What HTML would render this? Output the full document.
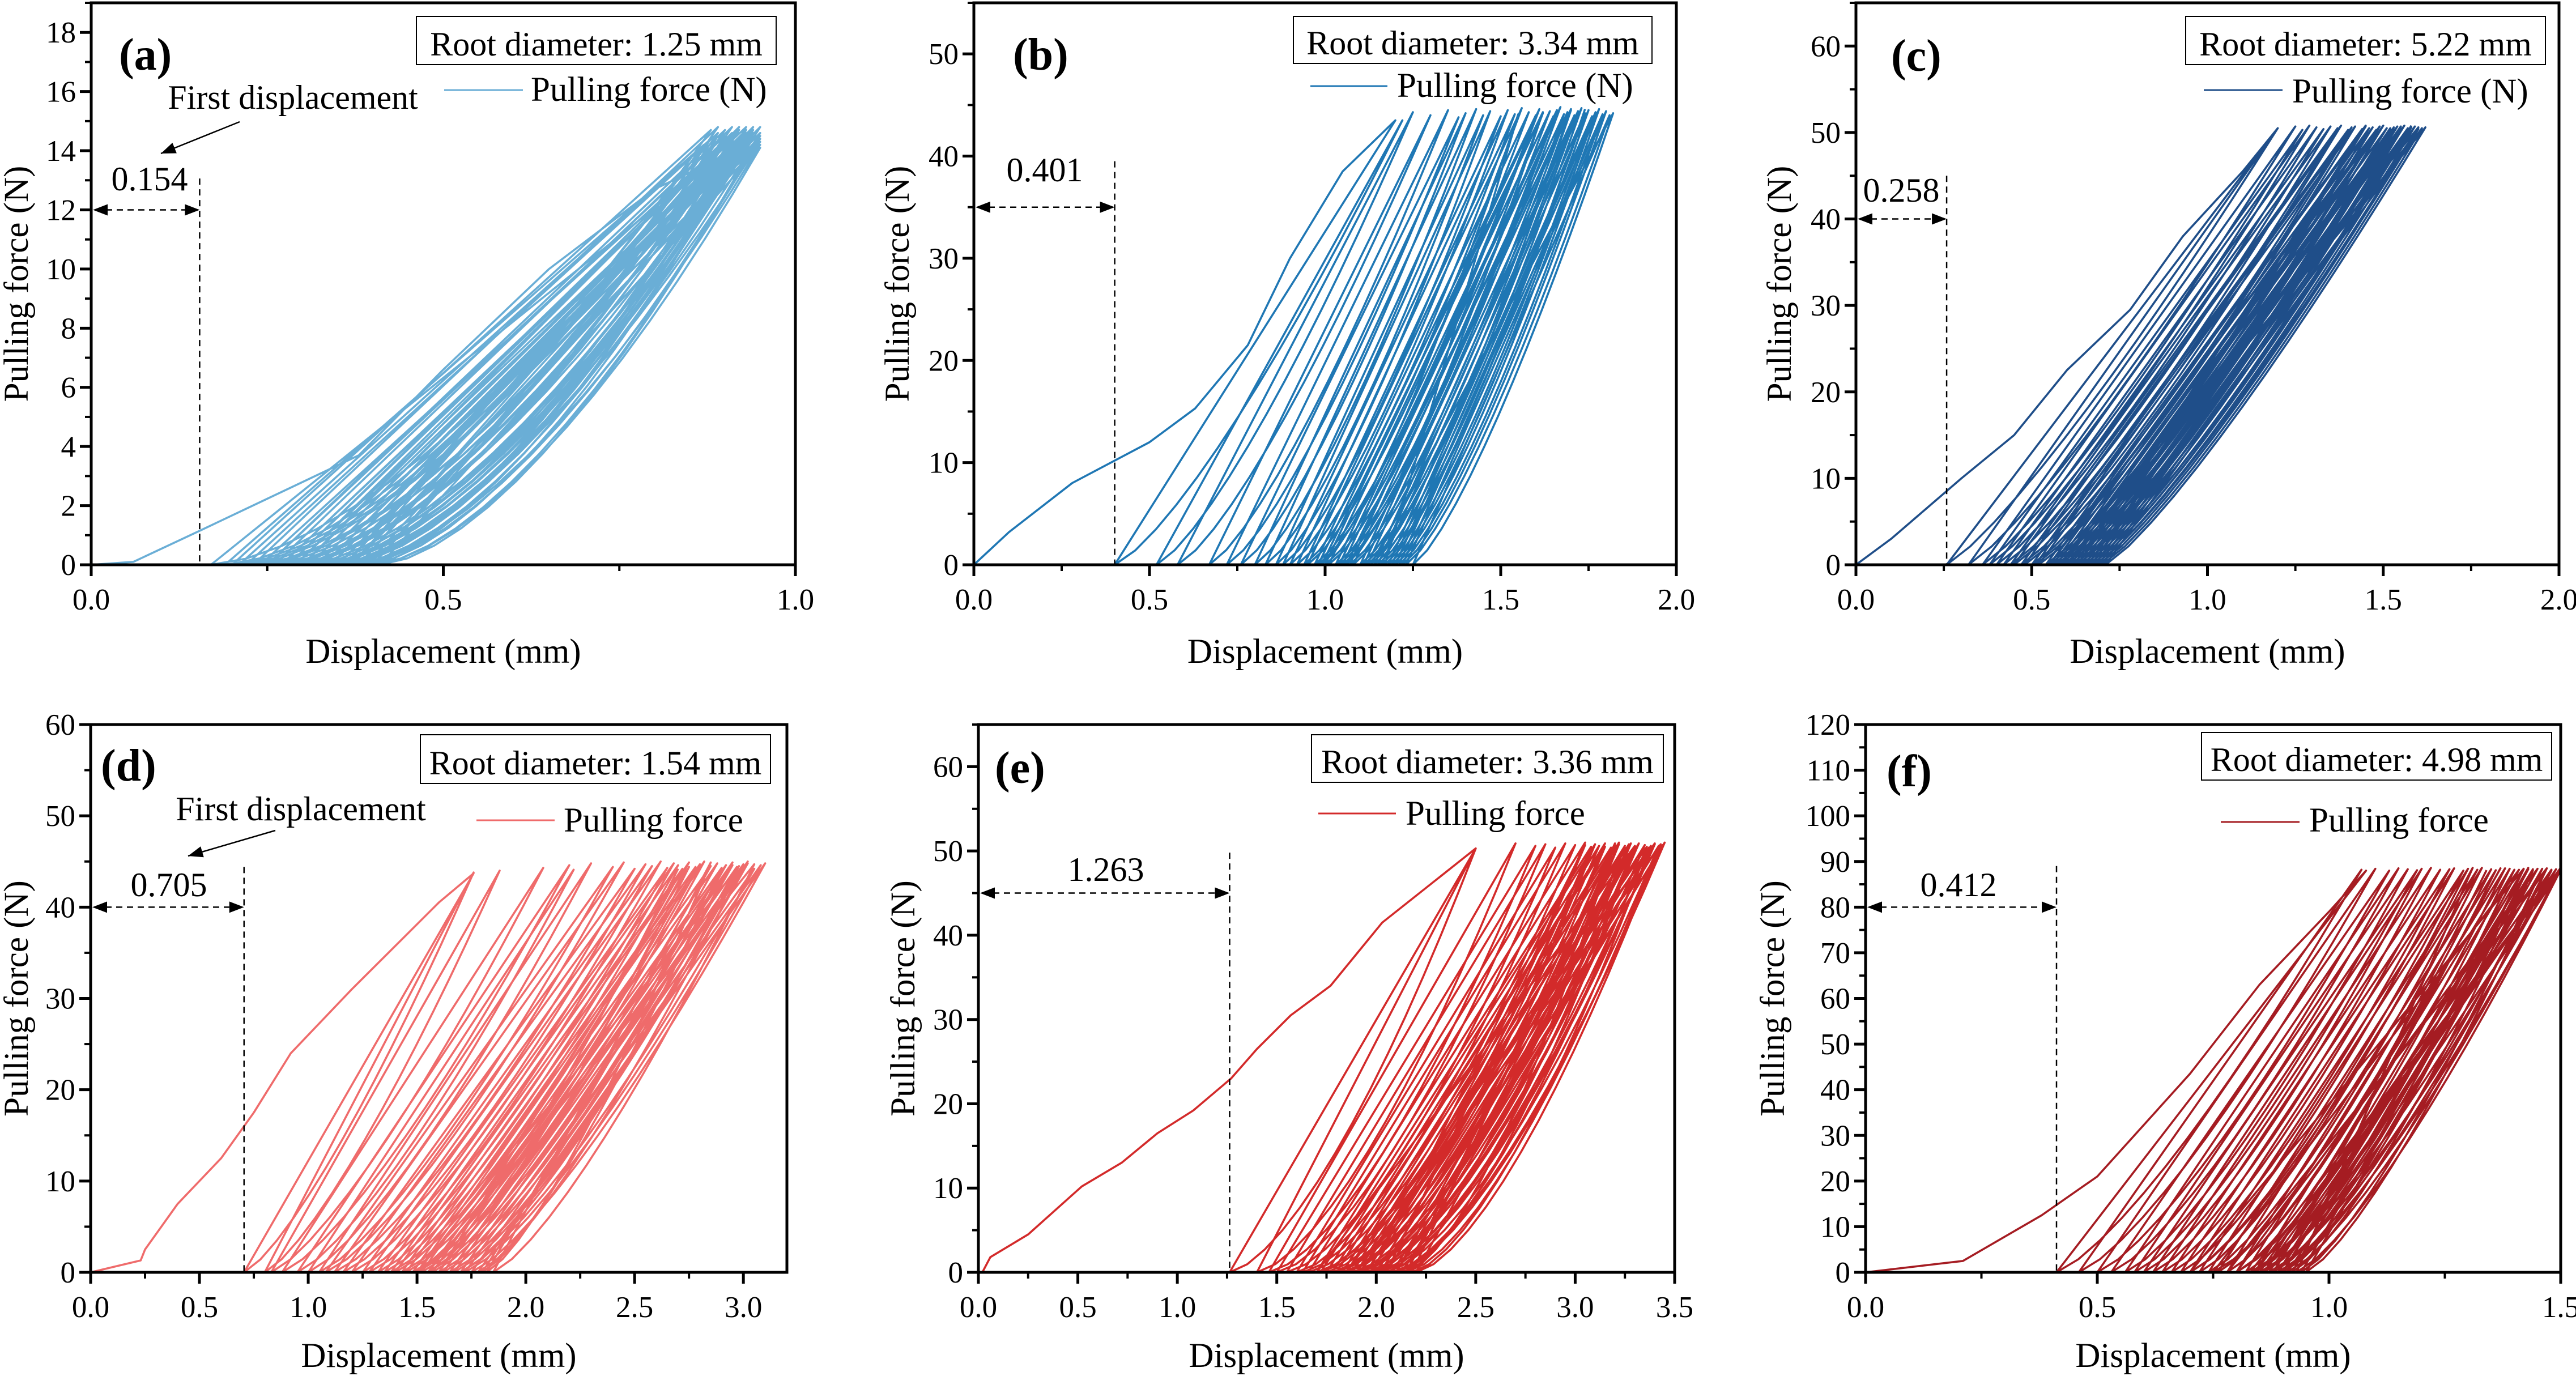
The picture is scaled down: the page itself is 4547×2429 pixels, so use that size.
<!DOCTYPE html>
<html><head><meta charset="utf-8">
<style>
html,body{margin:0;padding:0;background:#fff;}
svg{display:block;}
text{font-family:"Liberation Serif","Times New Roman",serif;}
</style></head>
<body>
<svg id="fig" width="4547" height="2429" viewBox="0 0 4547 2429" xmlns="http://www.w3.org/2000/svg">
</svg>
<script>
// ---- data ----
const aFirstX=[0,0.06,0.154,0.38,0.5,0.65,0.8,0.88];
const aFirstY=[0,0.1,1.15,3.7,6.6,10.0,12.7,13.6];
const aStarts=[0.17,0.19,0.2,0.21,0.22,0.23,0.24,0.25,0.25,0.26,0.27,0.28,0.28,0.29,0.3,0.3,0.31,0.31,0.32,0.32,0.33,0.33,0.34,0.34,0.35,0.35,0.36,0.36,0.37,0.37,0.38,0.38,0.39,0.4,0.4,0.41,0.33,0.29,0.36,0.27];
const aEnds=[0.87,0.88,0.88,0.89,0.89,0.9,0.9,0.9,0.91,0.91,0.91,0.92,0.92,0.92,0.93,0.93,0.93,0.93,0.94,0.94,0.94,0.94,0.95,0.95,0.95,0.94,0.93,0.92,0.95,0.94,0.93,0.95,0.94,0.95,0.95,0.95,0.92,0.9,0.93,0.89];
const aPeaks=[14.2,14.7,14.4,14.6,14.8,14.3,14.7,14.5,14.8,14.4,14.6,14.7,14.3,14.8,14.5,14.6,14.7,14.4,14.8,14.6,14.5,14.7,14.8,14.3,14.6,14.7,14.5,14.8,14.2,14.6,14.7,14.4,14.8,14.5,14.1,14.6,14.7,14.4,14.8,14.5];

const bFirstX=[0,0.1,0.28,0.5,0.63,0.78,0.9,1.05,1.2];
const bFirstY=[0,3.2,8,12,15.3,21.5,30,38.5,43.5];
const bStarts=[0.401,0.52,0.58,0.67,0.72,0.76,0.8,0.83,0.86,0.88,0.9,0.92,0.94,0.95,0.97,0.98,1.0,1.01,1.03,1.04,1.05,1.07,1.08,1.1,1.11,1.12,1.14,1.15,1.16,1.18,1.19,1.2,1.21,1.22,1.23,1.25,1.13,1.06,0.99,1.17];
const bEnds=[1.22,1.25,1.3,1.35,1.38,1.4,1.43,1.45,1.47,1.5,1.52,1.54,1.56,1.58,1.6,1.61,1.62,1.64,1.65,1.66,1.67,1.68,1.69,1.7,1.71,1.72,1.73,1.74,1.75,1.76,1.77,1.78,1.79,1.8,1.81,1.82,1.7,1.62,1.55,1.74];
const bPeaks=[43.5,44.3,44,44.5,43.8,44.2,44.6,44,44.4,43.9,44.5,44.1,44.7,44.3,44,44.6,44.2,44.4,43.9,44.5,44.8,44.1,44.3,44.6,44,44.4,44.7,44.2,44.5,43.9,44.3,44.6,44.1,44.4,44,44.2,44.5,44.3,44.1,44.6];

const cFirstX=[0,0.1,0.3,0.45,0.6,0.78,0.93,1.1,1.2];
const cFirstY=[0,3,10,15,22.5,29.5,38,45.5,50.5];
const cStarts=[0.258,0.32,0.36,0.38,0.4,0.42,0.44,0.45,0.47,0.48,0.5,0.51,0.52,0.54,0.55,0.56,0.57,0.58,0.59,0.6,0.61,0.62,0.63,0.64,0.65,0.66,0.67,0.68,0.69,0.7,0.71,0.6,0.62,0.64,0.66,0.68,0.58,0.55,0.63,0.67];
const cEnds=[1.2,1.25,1.27,1.29,1.31,1.33,1.35,1.37,1.38,1.4,1.41,1.42,1.44,1.45,1.46,1.47,1.48,1.49,1.5,1.51,1.52,1.53,1.54,1.55,1.56,1.57,1.58,1.59,1.6,1.61,1.62,1.5,1.53,1.55,1.57,1.6,1.48,1.45,1.52,1.58];
const cPeaks=[50.5,50.7,50.3,50.8,50.6,50.4,50.7,50.5,50.8,50.3,50.6,50.7,50.4,50.8,50.5,50.6,50.3,50.7,50.8,50.5,50.4,50.6,50.7,50.5,50.8,50.3,50.6,50.7,50.4,50.5,50.6,50.8,50.4,50.7,50.5,50.6,50.3,50.7,50.5,50.8];

const dFirstX=[0,0.23,0.25,0.4,0.6,0.75,0.92,1.2,1.6,1.76];
const dFirstY=[0,1.3,2.5,7.5,12.5,17.5,24,31,40.5,43.7];
const dStarts=[0.705,0.8,0.83,0.88,0.95,1.0,1.05,1.08,1.12,1.16,1.2,1.25,1.28,1.32,1.35,1.38,1.4,1.43,1.45,1.48,1.5,1.52,1.55,1.57,1.6,1.62,1.65,1.67,1.7,1.72,1.75,1.78,1.8,1.82,1.85,1.55,1.6,1.65,1.7,1.5];
const dEnds=[1.76,1.88,2.08,2.2,2.22,2.3,2.4,2.45,2.5,2.55,2.58,2.62,2.65,2.68,2.7,2.72,2.75,2.78,2.8,2.82,2.85,2.88,2.9,2.92,2.95,2.97,3.0,3.02,3.05,3.08,3.1,3.0,2.9,2.85,3.05,2.75,2.95,3.02,2.98,2.7];
const dPeaks=[43.8,44.0,44.3,44.6,44.1,44.8,44.4,44.9,44.2,44.7,44.5,45.0,44.3,44.8,44.6,44.2,44.9,44.4,44.7,45.0,44.5,44.8,44.3,44.6,44.9,44.4,44.7,45.0,44.2,44.6,44.8,44.5,44.3,44.9,44.7,44.4,44.6,44.8,44.5,44.2];

const eFirstX=[0.02,0.06,0.25,0.52,0.72,0.9,1.08,1.27,1.4,1.57,1.77,2.03,2.5];
const eFirstY=[0,1.8,4.5,10.2,13,16.5,19.2,23,26.5,30.5,34,41.5,50.3];
const eStarts=[1.263,1.4,1.46,1.5,1.55,1.6,1.63,1.66,1.7,1.72,1.75,1.78,1.8,1.83,1.85,1.88,1.9,1.92,1.95,1.97,2.0,2.02,2.05,2.08,2.1,2.13,2.15,2.18,2.2,1.9,1.95,2.0,1.85,1.8,2.05,1.7,1.98,2.1,1.92,2.15];
const eEnds=[2.5,2.7,2.8,2.85,2.9,2.95,3.0,3.05,3.08,3.1,3.12,3.15,3.18,3.2,3.22,3.25,3.27,3.3,3.32,3.35,3.37,3.4,3.42,3.45,3.44,3.3,3.2,3.38,3.43,3.25,3.35,3.4,3.15,3.1,3.3,3.05,3.28,3.36,3.22,3.42];
const ePeaks=[50.3,50.9,50.6,50.8,50.4,50.9,50.7,51.0,50.5,50.8,50.6,50.9,50.4,50.7,51.0,50.6,50.8,50.5,50.9,50.7,50.4,50.8,50.6,51.0,50.7,50.5,50.9,50.6,50.8,50.4,50.7,50.9,50.5,50.8,50.6,50.7,50.9,50.5,50.8,50.6];

const fFirstX=[0,0.21,0.38,0.5,0.7,0.85,1.0,1.08];
const fFirstY=[0,2.5,12.5,21,43.5,63,79,88];
const fStarts=[0.412,0.46,0.5,0.53,0.56,0.58,0.6,0.62,0.64,0.66,0.68,0.7,0.72,0.74,0.76,0.78,0.8,0.82,0.84,0.86,0.88,0.9,0.92,0.94,0.95,0.85,0.87,0.89,0.91,0.83,0.8,0.75,0.88,0.9,0.86,0.7,0.93,0.84,0.89,0.78];
const fEnds=[1.07,1.1,1.13,1.15,1.17,1.19,1.2,1.22,1.24,1.26,1.27,1.29,1.3,1.32,1.33,1.35,1.36,1.38,1.39,1.4,1.42,1.43,1.44,1.46,1.47,1.48,1.49,1.5,1.5,1.45,1.41,1.37,1.44,1.48,1.42,1.31,1.5,1.43,1.47,1.34];
const fPeaks=[88.2,88.4,88.0,88.5,88.3,88.1,88.4,88.6,88.2,88.3,88.5,88.0,88.4,88.2,88.6,88.3,88.1,88.5,88.4,88.2,88.3,88.6,88.0,88.4,88.5,88.2,88.3,88.1,88.6,88.4,88.2,88.5,88.3,88.0,88.4,88.6,88.2,88.3,88.5,88.1];

const aXTicks=["0.0","0.5","1.0"];
const bXTicks=["0.0","0.5","1.0","1.5","2.0"];
const cXTicks=["0.0","0.5","1.0","1.5","2.0"];
const dXTicks=["0.0","0.5","1.0","1.5","2.0","2.5","3.0"];
const eXTicks=["0.0","0.5","1.0","1.5","2.0","2.5","3.0","3.5"];
const fXTicks=["0.0","0.5","1.0","1.5"];
const aYTicks=["0","2","4","6","8","10","12","14","16","18"];
const bYTicks=["0","10","20","30","40","50"];
const cYTicks=["0","10","20","30","40","50","60"];
const dYTicks=["0","10","20","30","40","50","60"];
const eYTicks=["0","10","20","30","40","50","60"];
const fYTicks=["0","10","20","30","40","50","60","70","80","90","100","110","120"];

// ---- rendering ----
const NS="http://www.w3.org/2000/svg";
const svg=document.getElementById('fig');
const FONT='"Liberation Serif", "Times New Roman", serif';
function mk(tag,attrs,parent){const e=document.createElementNS(NS,tag);for(const k in attrs)e.setAttribute(k,attrs[k]);if(tag==='text')e.setAttribute('font-family',FONT);(parent||svg).appendChild(e);return e;}
function arrowHead(g,x,y,dx,dy){
  const len=Math.hypot(dx,dy);dx/=len;dy/=len;
  const L=26,W=10;
  const bx=x-dx*L, by=y-dy*L;
  const p=`${x},${y} ${bx-dy*W},${by+dx*W} ${bx+dy*W},${by-dx*W}`;
  const a=mk('polygon',{points:p,fill:'#000'},g);
  
  
}

const panels=[
 {id:'a',L:161,R:1404,T:5,B:997,xmax:1,ymax:19,xt:aXTicks,xstep:0.5,yt:aYTicks,ystep:2,color:'#6aaed6',p:1.6,
  fx:aFirstX,fy:aFirstY,st:aStarts,en:aEnds,pk:aPeaks,letterX:210,letterY:123,box:[735,29,635,85],legLine:[784,923,159],legText:[937,178],legLabel:'Pulling force (N)',
  fd:0.154,fdTop:13.06,fdArrowY:12,fdLabel:'0.154',fdLabelX:264,fdLabelY:336,ytitleX:29,titleY:1170,
  first:{text:[517,192],arrow:[423,215,284,271]}},
 {id:'b',L:1719,R:2959,T:5,B:997,xmax:2,ymax:55,xt:bXTicks,xstep:0.5,yt:bYTicks,ystep:10,color:'#1f77b4',p:1.3,
  fx:bFirstX,fy:bFirstY,st:bStarts,en:bEnds,pk:bPeaks,letterX:1788,letterY:123,box:[2283,29,633,83],legLine:[2313,2449,152],legText:[2466,171],legLabel:'Pulling force (N)',
  fd:0.401,fdTop:39.5,fdArrowY:35,fdLabel:'0.401',fdLabelX:1844,fdLabelY:320,ytitleX:1584,titleY:1170},
 {id:'c',L:3276,R:4517,T:5,B:997,xmax:2,ymax:65,xt:cXTicks,xstep:0.5,yt:cYTicks,ystep:10,color:'#1f4e89',p:1.2,
  fx:cFirstX,fy:cFirstY,st:cStarts,en:cEnds,pk:cPeaks,letterX:3338,letterY:125,box:[3858,29,635,85],legLine:[3890,4029,159],legText:[4046,181],legLabel:'Pulling force (N)',
  fd:0.258,fdTop:45,fdArrowY:40,fdLabel:'0.258',fdLabelX:3356,fdLabelY:356,ytitleX:3141,titleY:1170},
 {id:'d',L:160,R:1389,T:1279,B:2246,xmax:3.2,ymax:60,xt:dXTicks,xstep:0.5,yt:dYTicks,ystep:10,color:'#ef6b6b',p:1.3,
  fx:dFirstX,fy:dFirstY,st:dStarts,en:dEnds,pk:dPeaks,letterX:178,letterY:1378,box:[742,1297,618,86],legLine:[841,979,1448],legText:[995,1468],legLabel:'Pulling force',
  fd:0.705,fdTop:44.4,fdArrowY:40,fdLabel:'0.705',fdLabelX:298,fdLabelY:1582,ytitleX:29,titleY:2413,
  first:{text:[531,1448],arrow:[486,1466,332,1511]}},
 {id:'e',L:1727,R:2956,T:1279,B:2246,xmax:3.5,ymax:65,xt:eXTicks,xstep:0.5,yt:eYTicks,ystep:10,color:'#d32a2a',p:1.5,
  fx:eFirstX,fy:eFirstY,st:eStarts,en:eEnds,pk:ePeaks,letterX:1756,letterY:1382,box:[2315,1297,621,84],legLine:[2327,2464,1436],legText:[2481,1456],legLabel:'Pulling force',
  fd:1.263,fdTop:49.8,fdArrowY:45,fdLabel:'1.263',fdLabelX:1952,fdLabelY:1555,ytitleX:1594,titleY:2413},
 {id:'f',L:3293,R:4520,T:1279,B:2246,xmax:1.5,ymax:120,xt:fXTicks,xstep:0.5,yt:fYTicks,ystep:10,color:'#a51c22',p:1.3,
  fx:fFirstX,fy:fFirstY,st:fStarts,en:fEnds,pk:fPeaks,letterX:3330,letterY:1388,box:[3886,1293,618,84],legLine:[3920,4059,1451],legText:[4076,1468],legLabel:'Pulling force',
  fd:0.412,fdTop:89,fdArrowY:80,fdLabel:'0.412',fdLabelX:3457,fdLabelY:1582,ytitleX:3129,titleY:2413}
];

panels.forEach(P=>{
  const g=mk('g',{});
  
  
  const sx=v=>P.L+(P.R-P.L)*v/P.xmax;
  const sy=v=>P.B-(P.B-P.T)*v/P.ymax;

  const pts=[];
  for(let i=0;i<P.fx.length;i++)pts.push(sx(P.fx[i]).toFixed(1)+','+sy(P.fy[i]).toFixed(1));
  const N=14;
  for(let c=0;c<P.st.length;c++){
    for(let k=0;k<=N;k++){
      const t=k/N;
      const x=P.st[c]+(P.en[c]-P.st[c])*t;
      const y=P.pk[c]*Math.pow(t,P.p);
      pts.push(sx(x).toFixed(1)+','+sy(y).toFixed(1));
    }
  }
  const line=mk('polyline',{points:pts.join(' '),fill:'none',stroke:P.color,'stroke-width':3.6,'stroke-linejoin':'round'},g);
  
  

  const fr=mk('rect',{x:P.L,y:P.T,width:P.R-P.L,height:P.B-P.T,fill:'none',stroke:'#000','stroke-width':5},g);
  
  

  P.xt.forEach((lab,i)=>{
    const v=i*P.xstep, x=sx(v);
    mk('line',{x1:x,y1:P.B,x2:x,y2:P.B+20,stroke:'#000','stroke-width':5},g);
    const mv=v+P.xstep/2;
    if(mv<P.xmax+1e-9){const mx=sx(mv);mk('line',{x1:mx,y1:P.B,x2:mx,y2:P.B+11,stroke:'#000','stroke-width':4},g);}
    const t=mk('text',{x:x,y:P.B+79,'font-size':53,'text-anchor':'middle'},g);
    t.textContent=lab;
    
    
  });
  P.yt.forEach((lab,i)=>{
    const v=i*P.ystep, y=sy(v);
    mk('line',{x1:P.L-20,y1:y,x2:P.L,y2:y,stroke:'#000','stroke-width':5},g);
    const mv=v+P.ystep/2;
    if(mv<P.ymax+1e-9){const my=sy(mv);mk('line',{x1:P.L-11,y1:my,x2:P.L,y2:my,stroke:'#000','stroke-width':4},g);}
    const t=mk('text',{x:P.L-27,y:y+18,'font-size':53,'text-anchor':'end'},g);
    t.textContent=lab;
    
    
  });

  const xt=mk('text',{x:(P.L+P.R)/2,y:P.titleY,'font-size':61,'text-anchor':'middle'},g);
  xt.textContent='Displacement (mm)';
  
  
  const cy=(P.T+P.B)/2;
  const yt=mk('text',{x:P.ytitleX,y:cy+20,'font-size':61,'text-anchor':'middle',transform:`rotate(-90 ${P.ytitleX} ${cy})`},g);
  yt.textContent='Pulling force (N)';
  
  

  const lt=mk('text',{x:P.letterX,y:P.letterY,'font-size':80,'font-weight':'bold'},g);
  lt.textContent='('+P.id+')';
  
  

  const bx=mk('rect',{x:P.box[0],y:P.box[1],width:P.box[2],height:P.box[3],fill:'#fff',stroke:'#000','stroke-width':2},g);
  
  
  const diam={a:'1.25',b:'3.34',c:'5.22',d:'1.54',e:'3.36',f:'4.98'}[P.id];
  const bt=mk('text',{x:P.box[0]+P.box[2]/2,y:P.box[1]+P.box[3]-16,'font-size':60,'text-anchor':'middle'},g);
  bt.textContent='Root diameter: '+diam+' mm';
  
  

  const ll=mk('line',{x1:P.legLine[0],y1:P.legLine[2],x2:P.legLine[1],y2:P.legLine[2],stroke:P.color,'stroke-width':3},g);
  
  
  const lg=mk('text',{x:P.legText[0],y:P.legText[1],'font-size':61},g);
  lg.textContent=P.legLabel;
  
  

  const fx=sx(P.fd);
  const vl=mk('line',{x1:fx,y1:sy(P.fdTop),x2:fx,y2:P.B,stroke:'#000','stroke-width':2.5,'stroke-dasharray':'11 8'},g);
  
  
  const ay=sy(P.fdArrowY);
  const hl=mk('line',{x1:P.L+26,y1:ay,x2:fx-26,y2:ay,stroke:'#000','stroke-width':2.5,'stroke-dasharray':'11 8'},g);
  
  
  arrowHead(g,P.L+3,ay,-1,0);
  arrowHead(g,fx,ay,1,0);
  const fl=mk('text',{x:P.fdLabelX,y:P.fdLabelY,'font-size':60,'text-anchor':'middle'},g);
  fl.textContent=P.fdLabel;
  
  
  if(P.first){
    const ft=mk('text',{x:P.first.text[0],y:P.first.text[1],'font-size':60,'text-anchor':'middle'},g);
    ft.textContent='First displacement';
    
    
    const a=P.first.arrow;
    const al=mk('line',{x1:a[0],y1:a[1],x2:a[2],y2:a[3],stroke:'#000','stroke-width':2.5},g);
    
    
    arrowHead(g,a[2],a[3],a[2]-a[0],a[3]-a[1]);
  }
});
</script>
</body></html>
